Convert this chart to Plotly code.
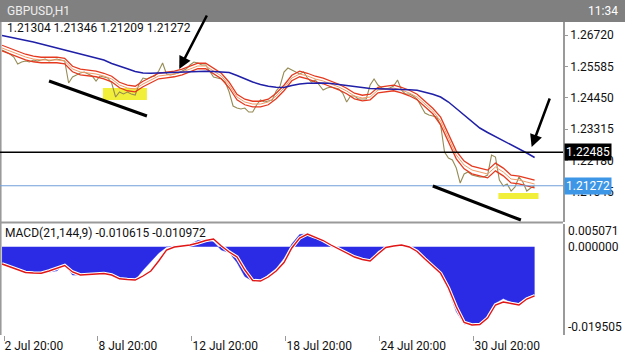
import plotly.graph_objects as go

# ---------------- data (bar index = hours since 2 Jul 20:00) ----------------
START_BAR = -2
FINE_STEP = 4
STEP = 8

close_prices = [
    1.26178, 1.26106, 1.26033, 1.25925, 1.25672, 1.25744, 1.25780, 1.25744, 1.25817, 1.25780,
    1.25817, 1.25853, 1.25780, 1.25817, 1.25853, 1.25817, 1.25780, 1.24985, 1.25202, 1.25274,
    1.25347, 1.25383, 1.25311, 1.25238, 1.25058, 1.25238, 1.25202, 1.25166, 1.24985, 1.24479,
    1.24660, 1.24588, 1.24660, 1.24588, 1.24552, 1.24949, 1.25166, 1.25130, 1.25202, 1.25238,
    1.25419, 1.25708, 1.25311, 1.25274, 1.25311, 1.25347, 1.25419, 1.25491, 1.25636, 1.25744,
    1.25708, 1.25636, 1.25636, 1.25419, 1.25202, 1.25166, 1.25130, 1.25021, 1.24660, 1.24154,
    1.24082, 1.24046, 1.24082, 1.23937, 1.23937, 1.24190, 1.24371, 1.24299, 1.24335, 1.24371,
    1.24696, 1.24877, 1.25383, 1.25527, 1.25455, 1.25383, 1.25311, 1.25383, 1.25166, 1.25021,
    1.25094, 1.24913, 1.24732, 1.24805, 1.24841, 1.24805, 1.24768, 1.24624, 1.24299, 1.24515,
    1.24515, 1.24407, 1.24407, 1.24407, 1.24913, 1.25130, 1.24913, 1.24805, 1.24768, 1.24805,
    1.24877, 1.25094, 1.24732, 1.24588, 1.24588, 1.24515, 1.24407, 1.24154, 1.23901, 1.23829,
    1.23793, 1.23757, 1.23467, 1.22492, 1.22275, 1.22203, 1.21913, 1.21371, 1.21697, 1.21769,
    1.21660, 1.21624, 1.21588, 1.21588, 1.21660, 1.22383, 1.22311, 1.21480, 1.21263, 1.21335,
    1.21082, 1.21227, 1.21588, 1.21407, 1.21082, 1.21191, 1.21272]

ema_mid = [
    1.26250, 1.26142, 1.26033, 1.25925, 1.25853, 1.25817, 1.25817, 1.25817, 1.25780, 1.25491,
    1.25383, 1.25347, 1.25311, 1.25238, 1.25130, 1.24913, 1.24805, 1.24768, 1.24949, 1.25094,
    1.25238, 1.25274, 1.25311, 1.25383, 1.25491, 1.25600, 1.25600, 1.25419, 1.25238, 1.24913,
    1.24479, 1.24299, 1.24226, 1.24226, 1.24299, 1.24515, 1.24805, 1.25166, 1.25311, 1.25238,
    1.25130, 1.25058, 1.24949, 1.24841, 1.24696, 1.24515, 1.24443, 1.24479, 1.24732, 1.24768,
    1.24805, 1.24732, 1.24624, 1.24479, 1.24226, 1.23973, 1.23612, 1.22998, 1.22383, 1.22022,
    1.21841, 1.21769, 1.21697, 1.21950, 1.21769, 1.21516, 1.21480, 1.21407, 1.21335]

ema_high = [
    1.26350, 1.26242, 1.26133, 1.26025, 1.25953, 1.25917, 1.25917, 1.25917, 1.25880, 1.25591,
    1.25483, 1.25447, 1.25411, 1.25338, 1.25230, 1.25013, 1.24905, 1.24868, 1.25049, 1.25194,
    1.25338, 1.25374, 1.25411, 1.25483, 1.25591, 1.25700, 1.25700, 1.25519, 1.25338, 1.25013,
    1.24579, 1.24399, 1.24326, 1.24326, 1.24399, 1.24615, 1.24905, 1.25266, 1.25411, 1.25338,
    1.25230, 1.25158, 1.25049, 1.24941, 1.24796, 1.24615, 1.24543, 1.24579, 1.24832, 1.24868,
    1.24905, 1.24832, 1.24724, 1.24579, 1.24326, 1.24073, 1.23752, 1.23138, 1.22523, 1.22162,
    1.21981, 1.21909, 1.21837, 1.22090, 1.21909, 1.21656, 1.21620, 1.21547, 1.21475]

ema_low = [
    1.26150, 1.26042, 1.25933, 1.25825, 1.25753, 1.25717, 1.25717, 1.25717, 1.25680, 1.25391,
    1.25283, 1.25247, 1.25211, 1.25138, 1.25030, 1.24813, 1.24705, 1.24668, 1.24849, 1.24994,
    1.25138, 1.25174, 1.25211, 1.25283, 1.25391, 1.25500, 1.25500, 1.25319, 1.25138, 1.24813,
    1.24379, 1.24199, 1.24126, 1.24126, 1.24199, 1.24415, 1.24705, 1.25066, 1.25211, 1.25138,
    1.25030, 1.24958, 1.24849, 1.24741, 1.24596, 1.24415, 1.24343, 1.24379, 1.24632, 1.24668,
    1.24705, 1.24632, 1.24524, 1.24379, 1.24126, 1.23873, 1.23472, 1.22858, 1.22243, 1.21882,
    1.21701, 1.21629, 1.21557, 1.21810, 1.21629, 1.21376, 1.21340, 1.21267, 1.21195]

ma_slow = [
    1.26702, 1.26648, 1.26594, 1.26529, 1.26467, 1.26395, 1.26322, 1.26243, 1.26189, 1.26116,
    1.26044, 1.25972, 1.25900, 1.25817, 1.25690, 1.25582, 1.25498, 1.25401, 1.25347, 1.25336,
    1.25347, 1.25365, 1.25383, 1.25394, 1.25401, 1.25408, 1.25408, 1.25401, 1.25390, 1.25365,
    1.25256, 1.25130, 1.25021, 1.24931, 1.24866, 1.24830, 1.24823, 1.24895, 1.24949, 1.24974,
    1.24985, 1.24985, 1.24967, 1.24938, 1.24902, 1.24866, 1.24823, 1.24787, 1.24779, 1.24779,
    1.24779, 1.24768, 1.24743, 1.24721, 1.24660, 1.24577, 1.24479, 1.24299, 1.24064, 1.23829,
    1.23594, 1.23359, 1.23196, 1.23052, 1.22907, 1.22763, 1.22618, 1.22456, 1.22293]

macd_main = [
    -0.003865, -0.004424, -0.004938, -0.005720, -0.005943, -0.005921, -0.005720, -0.005384, -0.003977, -0.006323,
    -0.006323, -0.006211, -0.006099, -0.005988, -0.006323, -0.007060, -0.007328, -0.007328, -0.005206, -0.003195,
    -0.001408, -0.000067, 0.000156, 0.000268, 0.000492, 0.001385, 0.001497, 0.001050, -0.000737, -0.001296,
    -0.003530, -0.006658, -0.007663, -0.007551, -0.006099, -0.004826, -0.002525, 0.000603, 0.002726, 0.002837,
    0.001944, 0.001162, 0.000045, -0.000514, -0.001072, -0.002413, -0.002860, -0.003195, -0.000961, -0.000179,
    0.000156, 0.000380, -0.000179, -0.001408, -0.002972, -0.004647, -0.005988, -0.009674, -0.014478, -0.017271,
    -0.017494, -0.017338, -0.015818, -0.012579, -0.011573, -0.012355, -0.012579, -0.011350, -0.010615]

macd_signal = [
    -0.003865, -0.004535, -0.005206, -0.005764, -0.005876, -0.005921, -0.005429, -0.004759, -0.004200, -0.005652,
    -0.006323, -0.006211, -0.006099, -0.005988, -0.006323, -0.007172, -0.007328, -0.007440, -0.006546, -0.005429,
    -0.003195, -0.000737, -0.000067, 0.000156, 0.000380, 0.000827, 0.001385, 0.001720, 0.000156, -0.001184,
    -0.002301, -0.005206, -0.007551, -0.007663, -0.006770, -0.005429, -0.003530, -0.000290, 0.001944, 0.002837,
    0.002167, 0.001385, 0.000380, -0.000514, -0.001408, -0.002301, -0.002860, -0.003195, -0.001631, -0.000179,
    0.000156, 0.000380, -0.000067, -0.001072, -0.002748, -0.004312, -0.005943, -0.009227, -0.013472, -0.016936,
    -0.017494, -0.017382, -0.015930, -0.013025, -0.012355, -0.012690, -0.013025, -0.011685, -0.010972]

x_tick_bars = [0, 96, 192, 288, 384, 480]
x_tick_labels = ["2 Jul 20:00", "8 Jul 20:00", "12 Jul 20:00", "18 Jul 20:00", "24 Jul 20:00", "30 Jul 20:00"]
price_ticks = [1.26720, 1.25585, 1.24450, 1.23315, 1.22180, 1.21045]
macd_tick_values = [0.005071, 0.0, -0.019505]
macd_tick_labels = ["0.005071", "0.000000", "-0.019505"]
level_price = 1.22485
bid_price = 1.21272
ohlc = [1.21304, 1.21346, 1.21209, 1.21272]
symbol_title = "GBPUSD,H1"
clock_text = "11:34"

# hand-drawn objects on the chart (bar index, price)
trend_lines = [((46, 1.25058), (146, 1.23793)), ((438, 1.21263), (528, 1.20034))]
highlight_boxes = [((101, 1.24805), (146, 1.24371)), ((505, 1.21010), (546, 1.20793))]
arrows = [((208, 1.27479), (179, 1.25491)), ((558, 1.24479), (539, 1.22672))]

bars_fine = [START_BAR + FINE_STEP * i for i in range(len(close_prices))]
bars = [START_BAR + STEP * i for i in range(len(ema_mid))]

X_RANGE = [-4.09, 571.0]
P_RANGE = [1.19962, 1.27190]
M_RANGE = [-0.019728, 0.005071]
GREY = "#9a9a9a"
FONT = "Roboto"

fig = go.Figure()

# price panel
fig.add_trace(go.Scatter(x=bars_fine, y=close_prices, mode="lines",
                         line=dict(color="#958b55", width=1.1), xaxis="x", yaxis="y"))
fig.add_trace(go.Scatter(x=bars, y=ema_high, mode="lines", line=dict(color="#e5391f", width=1.3),
                         xaxis="x", yaxis="y"))
fig.add_trace(go.Scatter(x=bars, y=ema_low, mode="lines", line=dict(color="#e5391f", width=1.3),
                         xaxis="x", yaxis="y"))
fig.add_trace(go.Scatter(x=bars, y=ema_mid, mode="lines", line=dict(color="#f39a66", width=1),
                         xaxis="x", yaxis="y"))
fig.add_trace(go.Scatter(x=bars, y=ma_slow, mode="lines", line=dict(color="#1f1fa8", width=1.5),
                         xaxis="x", yaxis="y"))

# MACD panel
fig.add_trace(go.Scatter(x=bars, y=macd_main, mode="lines", fill="tozeroy",
                         fillcolor="#2b2be6", line=dict(color="#2b2be6", width=0.5),
                         xaxis="x2", yaxis="y2"))
fig.add_trace(go.Scatter(x=bars, y=macd_signal, mode="lines", line=dict(color="white", width=3.5),
                         xaxis="x2", yaxis="y2"))
fig.add_trace(go.Scatter(x=bars, y=macd_signal, mode="lines", line=dict(color="#e01515", width=1.4),
                         xaxis="x2", yaxis="y2"))

shapes = []
# header bar
shapes.append(dict(type="rect", xref="paper", yref="paper", x0=-0.01, x1=1.12, y0=1.0, y1=1.08,
                   fillcolor="#808080", line=dict(width=0), layer="above"))
# panel separator and left border
shapes.append(dict(type="line", xref="paper", yref="paper", x0=0, x1=1, y0=0.3594, y1=0.3594,
                   line=dict(color=GREY, width=2)))
shapes.append(dict(type="line", xref="paper", yref="paper", x0=0.001, x1=0.001, y0=0, y1=1,
                   line=dict(color=GREY, width=2)))
# horizontal level and bid lines
shapes.append(dict(type="line", xref="paper", yref="y", x0=0, x1=1, y0=level_price, y1=level_price,
                   line=dict(color="black", width=1.5)))
shapes.append(dict(type="line", xref="paper", yref="y", x0=0, x1=1, y0=bid_price, y1=bid_price,
                   line=dict(color="#6f9fd8", width=1)))
for (x0, y0), (x1, y1) in highlight_boxes:
    shapes.append(dict(type="rect", xref="x", yref="y", x0=x0, x1=x1, y0=y0, y1=y1,
                       fillcolor="#f2ef3a", line=dict(width=0), layer="below"))
for (x0, y0), (x1, y1) in trend_lines:
    shapes.append(dict(type="line", xref="x", yref="y", x0=x0, x1=x1, y0=y0, y1=y1,
                       line=dict(color="black", width=3)))

annotations = []
annotations.append(dict(text=symbol_title, xref="paper", yref="paper", x=5 / 563, y=1.035,
                        xanchor="left", yanchor="middle", showarrow=False,
                        font=dict(family=FONT, size=12, color="#eeeeee")))
annotations.append(dict(text=clock_text, xref="paper", yref="paper", x=620 / 563, y=1.035,
                        xanchor="right", yanchor="middle", showarrow=False,
                        font=dict(family=FONT, size=12, color="white")))
annotations.append(dict(text=" ".join(f"{v:.5f}" for v in ohlc), xref="paper", yref="paper",
                        x=5 / 563, y=0.9808, xanchor="left", yanchor="middle", showarrow=False,
                        font=dict(family=FONT, size=12, color="#111111")))
annotations.append(dict(text=f"MACD(21,144,9) {macd_main[-1]:.6f} {macd_signal[-1]:.6f}",
                        xref="paper", yref="paper", x=3 / 563, y=0.325, xanchor="left",
                        yanchor="middle", showarrow=False,
                        font=dict(family=FONT, size=12, color="#111111")))
for val, lab, shift in zip(macd_tick_values, macd_tick_labels, [-7, 0, 7]):
    annotations.append(dict(text=lab, xref="paper", yref="y2", x=1, y=val, xshift=3, yshift=shift,
                            xanchor="left", yanchor="middle", showarrow=False,
                            font=dict(family=FONT, size=12, color="#111111")))
annotations.append(dict(text=f"{level_price:.5f}", xref="paper", yref="y", x=1, y=level_price,
                        xshift=1, xanchor="left", yanchor="middle", showarrow=False,
                        bgcolor="black", borderpad=1,
                        font=dict(family=FONT, size=12, color="white")))
annotations.append(dict(text=f"{bid_price:.5f}", xref="paper", yref="y", x=1, y=bid_price,
                        xshift=1, xanchor="left", yanchor="middle", showarrow=False,
                        bgcolor="#3d96e6", borderpad=1,
                        font=dict(family=FONT, size=12, color="white")))
for (ax, ay), (hx, hy) in arrows:
    annotations.append(dict(text="", x=hx, y=hy, xref="x", yref="y", ax=ax, ay=ay,
                            axref="x", ayref="y", showarrow=True, arrowhead=2, arrowsize=1,
                            arrowwidth=2.5, arrowcolor="black"))

fig.update_layout(
    width=625, height=352,
    margin=dict(l=0, r=62, t=22, b=17),
    paper_bgcolor="white", plot_bgcolor="white",
    showlegend=False,
    font=dict(family=FONT, size=12, color="#111111"),
    xaxis=dict(domain=[0, 1], anchor="y", range=X_RANGE, showticklabels=False,
               showgrid=False, zeroline=False, showline=False, ticks=""),
    xaxis2=dict(domain=[0, 1], anchor="y2", range=X_RANGE, tickvals=x_tick_bars,
                ticktext=x_tick_labels, ticklabelposition="outside right", ticks="outside",
                ticklen=5, tickcolor=GREY, showgrid=False, zeroline=False, showline=False,
                tickfont=dict(family=FONT, size=12, color="#111111")),
    yaxis=dict(domain=[0.3610, 1], anchor="x", range=P_RANGE, side="right",
               tickvals=price_ticks, ticktext=[f"{v:.5f}" for v in price_ticks],
               ticks="outside", ticklen=3, tickcolor=GREY, showgrid=False, zeroline=False,
               showline=True, linecolor=GREY, linewidth=1.5,
               tickfont=dict(family=FONT, size=12, color="#111111")),
    yaxis2=dict(domain=[0, 0.3546], anchor="x2", range=M_RANGE, side="right",
                showticklabels=False, ticks="", showgrid=False, zeroline=False,
                showline=True, linecolor=GREY, linewidth=1.5),
    shapes=shapes,
    annotations=annotations,
)

fig.write_html("out.html")
